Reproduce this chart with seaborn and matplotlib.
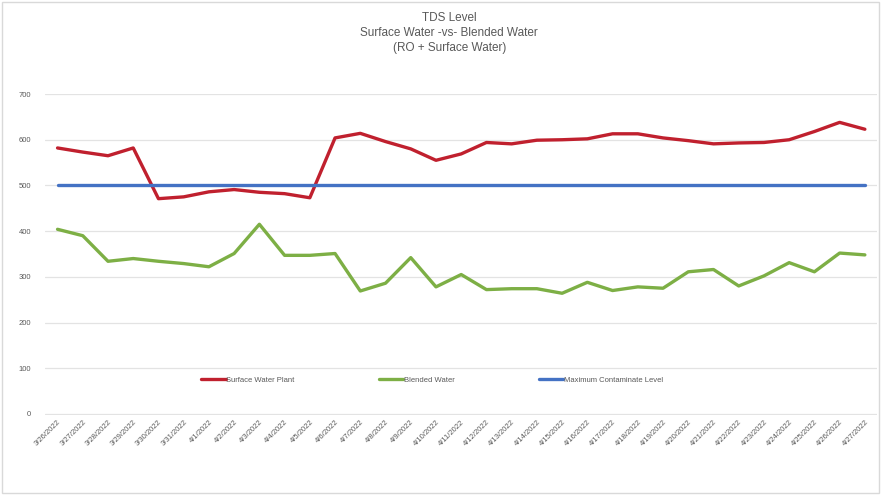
import pandas as pd
import numpy as np
import seaborn as sns
from matplotlib import pyplot as plt
from matplotlib.patches import Rectangle

# Dates on the category axis
dates = ["3/26/2022", "3/27/2022", "3/28/2022", "3/29/2022", "3/30/2022", "3/31/2022",
         "4/1/2022", "4/2/2022", "4/3/2022", "4/4/2022", "4/5/2022", "4/6/2022",
         "4/7/2022", "4/8/2022", "4/9/2022", "4/10/2022", "4/11/2022", "4/12/2022",
         "4/13/2022", "4/14/2022", "4/15/2022", "4/16/2022", "4/17/2022", "4/18/2022",
         "4/19/2022", "4/20/2022", "4/21/2022", "4/22/2022", "4/23/2022", "4/24/2022",
         "4/25/2022", "4/26/2022", "4/27/2022"]

surface_water = [582, 573, 565, 582, 471, 475, 486, 491, 485, 482, 473, 604,
                 614, 596, 580, 555, 569, 594, 591, 599, 600, 602, 613, 613,
                 604, 598, 591, 593, 594, 600, 618, 638, 623]

blended_water = [404, 390, 334, 340, 334, 329, 322, 351, 415, 347, 347, 351,
                 269, 286, 342, 278, 305, 272, 274, 274, 264, 288, 270, 278,
                 275, 311, 316, 280, 302, 331, 311, 352, 348]

max_level = [500] * len(dates)

series_names = ["Surface Water Plant", "Blended Water", "Maximum Contaminate Level"]
series_colors = ["#C0202E", "#7DAF45", "#4472C4"]

df = pd.DataFrame({
    "date": dates * 3,
    "tds": surface_water + blended_water + max_level,
    "series": [series_names[0]] * len(dates) + [series_names[1]] * len(dates) + [series_names[2]] * len(dates),
})

sns.set_style("white")
plt.rcParams["font.family"] = ["Liberation Sans", "DejaVu Sans"]
text_gray = "#595959"

fig = plt.figure(figsize=(8.81, 4.95), dpi=100)
ax = fig.add_axes([0.051, 0.162, 0.945, 0.648])

sns.lineplot(data=df, x="date", y="tds", hue="series", hue_order=series_names,
             palette=series_colors, linewidth=2.4, sort=False, ax=ax)

ax.set_ylim(-2, 700)
ax.set_yticks(np.arange(0, 701, 100))
ax.set_xlim(-0.5, len(dates) - 0.5)
ax.grid(axis="y", color="#E3E3E3", linewidth=0.9)
ax.set_axisbelow(True)
for s in ax.spines.values():
    s.set_visible(False)

ax.set_xlabel("")
ax.set_ylabel("")
ax.tick_params(axis="y", labelsize=5.5, colors=text_gray, length=0, pad=10)
ax.tick_params(axis="x", labelsize=5.5, colors=text_gray, length=0, pad=3)
plt.setp(ax.get_xticklabels(), rotation=45, ha="right", rotation_mode="anchor")

leg = ax.legend(loc="center", bbox_to_anchor=(0.465, 0.109), ncol=3, frameon=False,
                fontsize=5.5, handlelength=3.2, handletextpad=0.1, columnspacing=11)
for t in leg.get_texts():
    t.set_color(text_gray)

fig.text(0.51, 0.964, "TDS Level", ha="center", va="center", fontsize=8.5, color=text_gray)
fig.text(0.51, 0.934, "Surface Water -vs- Blended Water", ha="center", va="center", fontsize=8.5, color=text_gray)
fig.text(0.51, 0.904, "(RO + Surface Water)", ha="center", va="center", fontsize=8.5, color=text_gray)

fig.patches.append(Rectangle((0.002, 0.004), 0.996, 0.992, transform=fig.transFigure,
                             fill=False, edgecolor="#D9D9D9", linewidth=1))

fig.savefig("out.png", dpi=100)
